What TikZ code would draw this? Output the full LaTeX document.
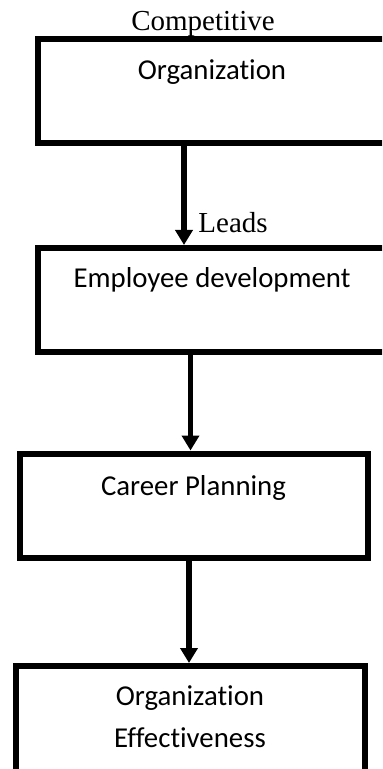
\documentclass[tikz,border=0pt]{standalone}
\usepackage{fontspec}
\setmainfont{Liberation Serif}
\newfontfamily\calibri[Ligatures=NoCommon]{Carlito}
\usetikzlibrary{arrows.meta}
\begin{document}
\begin{tikzpicture}[x=0.5pt,y=-0.5pt]
	\tikzstyle{boite}=[minimum width=175pt, minimum height=52pt, line width=3pt, draw]
	\tikzstyle{texte}=[anchor=base, inner sep=0pt, font=\calibri\fontsize{14.4}{21}\selectfont]
	\tikzstyle{titre}=[anchor=base, inner sep=0pt, font=\fontsize{14.5}{17}\selectfont]
	\tikzstyle{fleche}=[line width=2.75pt, -{Triangle[width=8.5pt,length=7.5pt]}]
	\useasboundingbox (0,0) rectangle (382,769);
	\clip (0,0) rectangle (382,769);
	\node[boite] (org) at (213,91) {}; % haut
	\node[boite] (emp) at (213,300) {};
	\node[boite, minimum width=174pt] (car) at (194,505.5) {};
	\node[boite, minimum width=174.5pt, minimum height=53pt] (eff) at (190.5,719) {}; % bas
	\node[titre] (compet) at (203,31) {Competitive};
	\node[texte] (torg) at (212,80) {Organization};
	\node[titre, anchor=base west] (leads) at (198,233) {Leads};
	\node[texte] (temp) at (212,288) {Employee development};
	\node[texte] (tcar) at (193.5,495) {Career Planning};
	\node[texte] (teff) at (190,705) {Organization};
	\node[texte] (teffb) at (190,747) {Effectiveness};
	\draw[fleche] ([xshift=-14.5pt]org.south) -- ([xshift=-14.5pt]emp.north);
	\draw[fleche] ([xshift=-11.25pt]emp.south) -- ([xshift=-1.75pt]car.north);
	\draw[fleche] ([xshift=-2.5pt]car.south) -- ([xshift=-0.75pt]eff.north);
\end{tikzpicture}
\end{document}
